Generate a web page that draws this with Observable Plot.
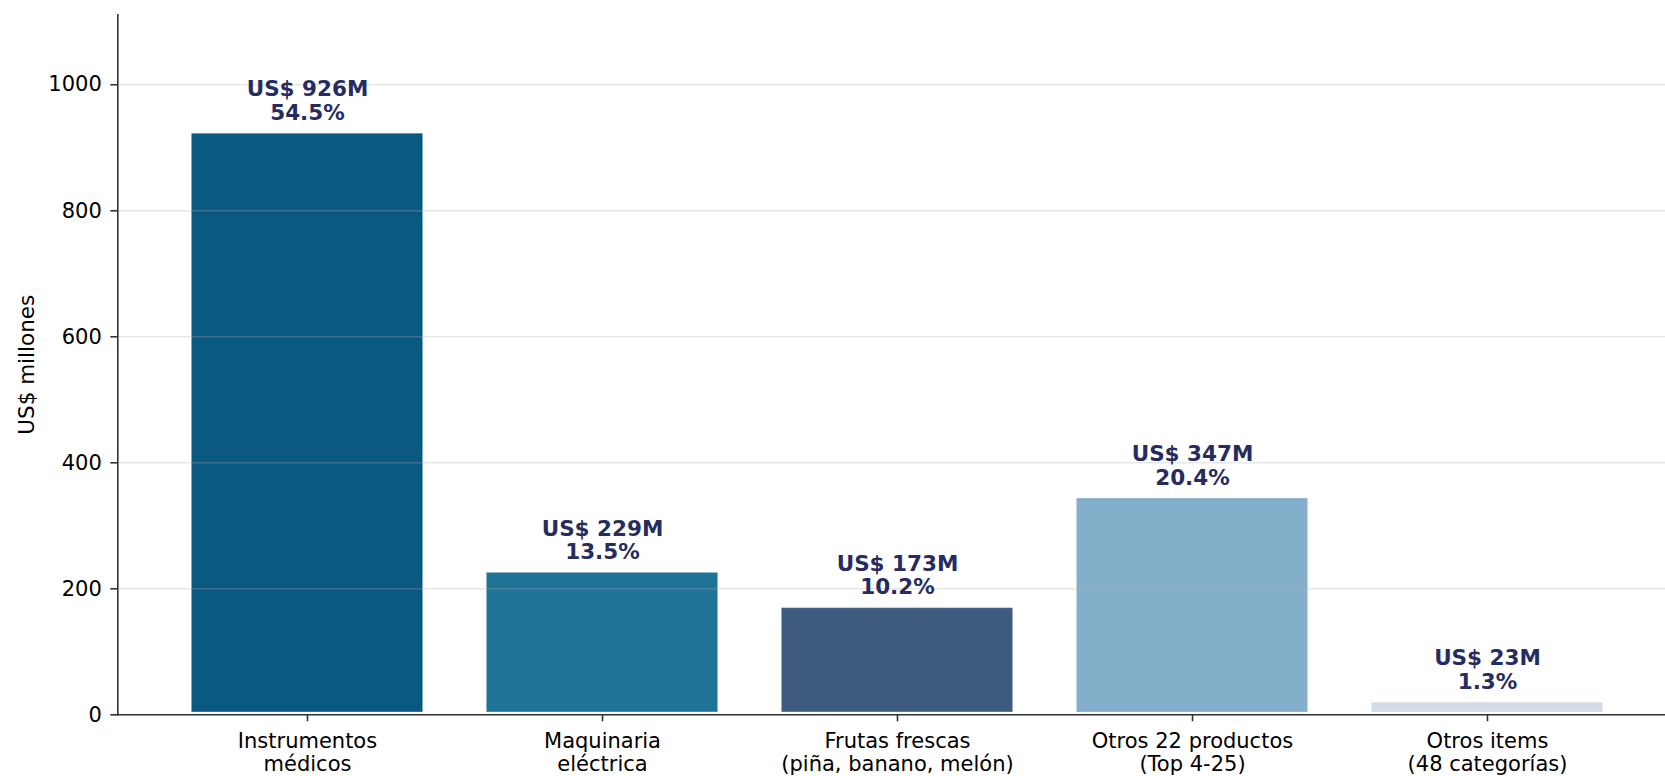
<!DOCTYPE html>
<html><head><meta charset="utf-8">
<script src="https://cdn.jsdelivr.net/npm/d3@7"></script>
<script src="https://cdn.jsdelivr.net/npm/@observablehq/plot@0.6"></script>
<style>html,body{margin:0;padding:0;background:#fff;overflow:hidden}</style>
</head><body><div id="chart"></div>
<script>
const categories = ["Instrumentos médicos", "Maquinaria eléctrica", "Frutas frescas (piña, banano, melón)", "Otros 22 productos (Top 4-25)", "Otros items (48 categorías)"];
const tickLabels = ["Instrumentos\nmédicos", "Maquinaria\neléctrica", "Frutas frescas\n(piña, banano, melón)", "Otros 22 productos\n(Top 4-25)", "Otros items\n(48 categorías)"];
const values = [926, 229, 173, 347, 23];
const shares = ["54.5%", "13.5%", "10.2%", "20.4%", "1.3%"];
const colors = ["#0a5980", "#1f7396", "#3e5b7f", "#84afca", "#d3dce4"];
const yTicks = [0, 200, 400, 600, 800, 1000];
const yLabel = "US$ millones";

const data = categories.map((c, i) => ({category: c, value: values[i], share: shares[i], label: `US$ ${values[i]}M`}));
const labelColor = "#262c5f";

const plot = Plot.plot({
  width: 1665, height: 776,
  marginLeft: 117.3, marginRight: 0, marginTop: 14.2, marginBottom: 61.7,
  style: {fontFamily: "DejaVu Sans", fontSize: "21px", color: "#000", background: "#fff", overflow: "hidden"},
  x: {type: "band", domain: categories, range: [117.3, 1677.5], paddingInner: 0.2, paddingOuter: 0.24, label: null},
  y: {domain: [0, 1111.2], label: null},
  color: {domain: categories, range: colors},
  marks: [
    Plot.barY(data, {x: "category", y: "value", fill: "category", inset: 2.35, stroke: "#fff", strokeOpacity: 0.25, strokeWidth: 1}),
    Plot.gridY(yTicks, {stroke: "#b0b0b0", strokeOpacity: 0.3, strokeWidth: 1.5}),
    Plot.text(data, {x: "category", y: "value", text: "share", dy: -11.5, lineAnchor: "bottom", fontWeight: "bold", fontSize: 21.5, fill: labelColor}),
    Plot.text(data, {x: "category", y: "value", text: "label", dy: -34.9, lineAnchor: "bottom", fontWeight: "bold", fontSize: 21.5, fill: labelColor}),
    Plot.axisY({ticks: yTicks, tickSize: 7, tickPadding: 9, tickFormat: d => String(d), label: null, stroke: "#333", strokeWidth: 1.6, fill: "#000"}),
    Plot.axisX({tickSize: 7, tickPadding: 9, tickFormat: d => tickLabels[categories.indexOf(d)], label: null, lineHeight: 1.12, stroke: "#333", strokeWidth: 1.6, fill: "#000"}),
    Plot.ruleY([0], {stroke: "#333", strokeWidth: 1.6}),
    Plot.frame({anchor: "left", stroke: "#333", strokeWidth: 1.6}),
    Plot.text([yLabel], {frameAnchor: "left", textAnchor: "middle", dx: -84, rotate: -90, lineAnchor: "bottom", fontSize: 21.5, fill: "#000"})
  ]
});
document.getElementById("chart").appendChild(plot);
</script>
</body></html>
